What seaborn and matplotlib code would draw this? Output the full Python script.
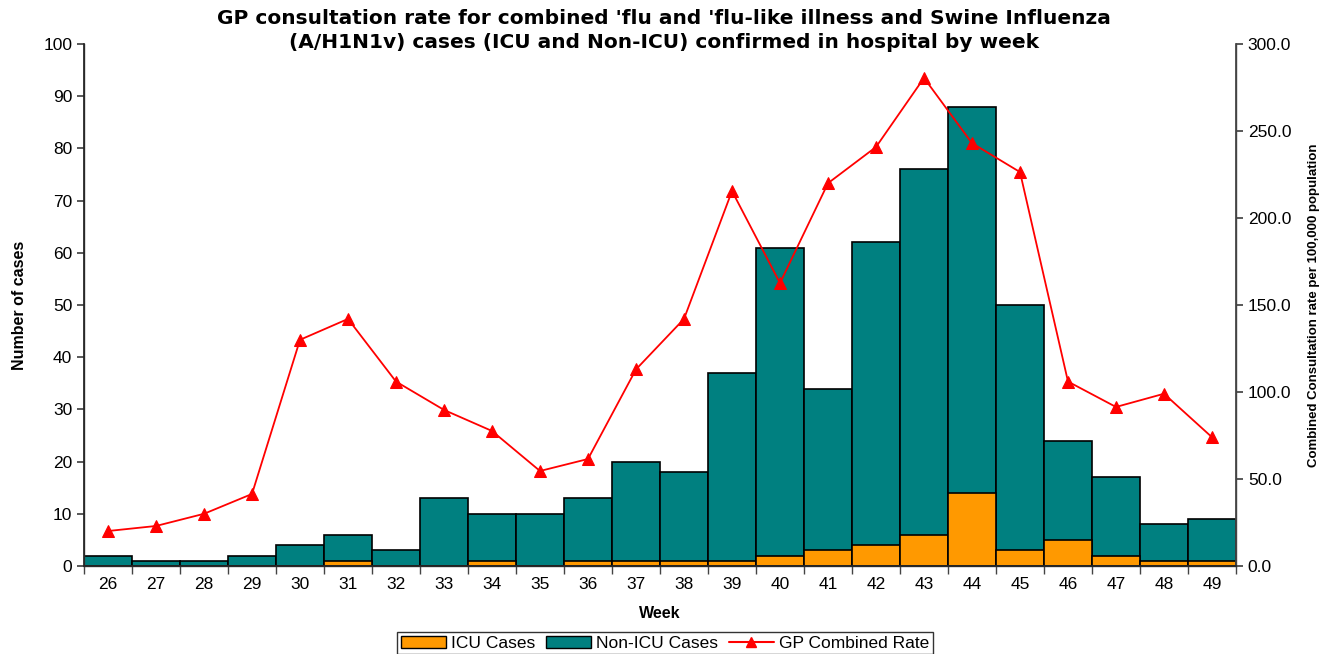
import numpy as np
import pandas as pd
import matplotlib
matplotlib.use("Agg")
import matplotlib.pyplot as plt
import seaborn as sns
from matplotlib.patches import Patch
from matplotlib.lines import Line2D

weeks = [26, 27, 28, 29, 30, 31, 32, 33, 34, 35, 36, 37, 38, 39, 40, 41, 42, 43, 44, 45, 46, 47, 48, 49]
icu_cases = [0, 0, 0, 0, 0, 1, 0, 0, 1, 0, 1, 1, 1, 1, 2, 3, 4, 6, 14, 3, 5, 2, 1, 1]
total_cases = [2, 1, 1, 2, 4, 6, 3, 13, 10, 10, 13, 20, 18, 37, 61, 34, 62, 76, 88, 50, 24, 17, 8, 9]
non_icu_cases = [t - i for t, i in zip(total_cases, icu_cases)]
gp_rate = [20.1, 23.0, 30.0, 41.4, 130.0, 142.0, 106.0, 89.7, 77.6, 54.6, 61.5, 113.0, 142.0,
           215.5, 162.6, 220.0, 240.8, 280.5, 243.0, 226.4, 106.0, 91.4, 99.0, 74.0]

df = pd.DataFrame({"week": [str(w) for w in weeks], "icu": icu_cases,
                   "non_icu": non_icu_cases, "total": total_cases, "rate": gp_rate})
df["pos"] = np.arange(len(df))

sns.set_theme(style="white")
plt.rcParams["font.family"] = ["Liberation Sans", "DejaVu Sans"]
plt.rcParams["text.color"] = "black"
plt.rcParams["axes.labelcolor"] = "black"
plt.rcParams["xtick.color"] = "black"
plt.rcParams["ytick.color"] = "black"

ORANGE = "#FF9900"
TEAL = "#008080"

fig = plt.figure(figsize=(13.3, 6.54), dpi=100)
ax = fig.add_axes([84 / 1330, 1 - 566 / 654, (1236 - 84) / 1330, (566 - 44) / 654])

sns.barplot(data=df, x="week", y="total", color=TEAL, width=1.0, edgecolor="black",
            linewidth=1.2, saturation=1, ax=ax)
sns.barplot(data=df, x="week", y="icu", color=ORANGE, width=1.0, edgecolor="black",
            linewidth=1.2, saturation=1, ax=ax)

ax.set_xlim(-0.5, len(weeks) - 0.5)
ax.set_ylim(0, 100)
ax.set_yticks(np.arange(0, 101, 10))
ax.tick_params(axis="y", labelsize=12.5, length=5, direction="out", left=True, color="#444444",
               labelcolor="black")
ax.tick_params(axis="x", which="major", labelsize=12.5, length=0, pad=8, labelcolor="black")
ax.set_xticks(np.arange(-0.5, len(weeks), 1), minor=True)
ax.tick_params(axis="x", which="minor", length=6, bottom=True, color="#444444")
ax.set_xlabel("Week", fontsize=11.5, fontweight="bold", labelpad=10, color="black")
ax.set_ylabel("Number of cases", fontsize=11.5, fontweight="bold", labelpad=12, color="black")
ax.spines["top"].set_visible(False)
for s in ["left", "bottom", "right"]:
    ax.spines[s].set_color("#444444")
    ax.spines[s].set_linewidth(1)

ax2 = ax.twinx()
sns.lineplot(data=df, x="pos", y="rate", color="red", marker="^", markersize=8,
             markeredgecolor="red", linewidth=1.3, ax=ax2)
ax2.set_ylim(0, 300)
ax2.set_yticks(np.arange(0, 301, 50))
ax2.set_yticklabels([f"{v:.1f}" for v in np.arange(0, 301, 50)])
ax2.tick_params(axis="y", labelsize=12.5, length=5, direction="out", right=True, color="#444444",
                labelcolor="black")
ax2.set_ylabel("Combined Consultation rate per 100,000 population", fontsize=9.5,
               fontweight="bold", labelpad=12, color="black")
ax2.set_xlabel("")
ax2.spines["top"].set_visible(False)
ax2.spines["right"].set_color("#444444")
ax2.set_xlim(-0.5, len(weeks) - 0.5)

title_font = ["DejaVu Sans"]
fig.text(0.4995, 1 - 18 / 654, "GP consultation rate for combined 'flu and 'flu-like illness and Swine Influenza",
         ha="center", va="center", fontsize=14.5, fontweight="bold", color="black", family=title_font)
fig.text(0.4995, 1 - 42 / 654, "(A/H1N1v) cases (ICU and Non-ICU) confirmed in hospital by week",
         ha="center", va="center", fontsize=14.5, fontweight="bold", color="black", family=title_font)

handles = [Patch(facecolor=ORANGE, edgecolor="black", label="ICU Cases"),
           Patch(facecolor=TEAL, edgecolor="black", label="Non-ICU Cases"),
           Line2D([0], [0], color="red", marker="^", markersize=7, label="GP Combined Rate")]
leg = fig.legend(handles=handles, loc="lower center", bbox_to_anchor=(0.5, -0.006), ncol=3,
                 fontsize=12.5, frameon=True, fancybox=False, edgecolor="black",
                 handlelength=2.6, handleheight=0.7, columnspacing=0.6, handletextpad=0.3,
                 borderpad=0.2, borderaxespad=0.2)
leg.get_frame().set_linewidth(1)

fig.savefig("out.png", dpi=100)
